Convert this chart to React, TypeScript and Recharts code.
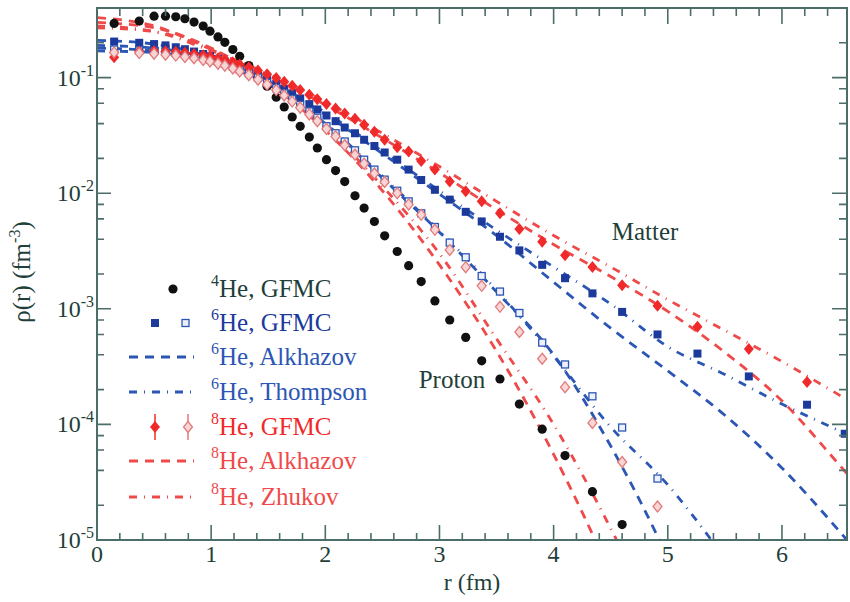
import React from "react";
import { ComposedChart, Scatter, Line, XAxis, YAxis } from "recharts";

const AXIS = "#4d6e68";
const TEXT = "#1f3f3a";
const BLACK = "#111111";
const BLUE = "#1c3a9c";
const BLUE_LINE = "#2c56b4";
const RED = "#f02a2a";
const RED_LINE = "#ef4a4a";
const PINK = "#e27a7a";
const FONT = "Liberation Serif, Tinos, Times New Roman, serif";

const W = 850;
const H = 602;
const MARGIN = { top: 8, right: 3, bottom: 61, left: 0 };
const Y_AXIS_W = 97;
const X_AXIS_H = 1;
const PLOT_TOP = MARGIN.top;
const PLOT_RIGHT = W - MARGIN.right;
const PLOT_LEFT = MARGIN.left + Y_AXIS_W;
const PLOT_BOTTOM = H - MARGIN.bottom - X_AXIS_H;

// r grid of the GFMC points (fm)
const rGrid = [0.15, 0.37, 0.5, 0.6, 0.69, 0.77, 0.85, 0.93, 0.99, 1.06, 1.12, 1.19, 1.25, 1.33, 1.41, 1.49, 1.57, 1.64, 1.71, 1.78, 1.86, 1.93, 2.01, 2.09, 2.17, 2.26, 2.34, 2.43, 2.52, 2.63, 2.73, 2.84, 2.96, 3.09, 3.23, 3.37, 3.53, 3.7, 3.9, 4.1, 4.34, 4.6, 4.91, 5.26, 5.71, 6.22, 6.55];

const he4Gfmc = [0.294, 0.308, 0.34, 0.34, 0.336, 0.323, 0.302, 0.279, 0.252, 0.225, 0.202, 0.175, 0.153, 0.127, 0.104, 0.0843, 0.0676, 0.0557, 0.0456, 0.0379, 0.0306, 0.0246, 0.0195, 0.0157, 0.0126, 0.0095, 0.00743, 0.00569, 0.00428, 0.00313, 0.00236, 0.00172, 0.00117, 0.0008, 0.000566, 0.000355, 0.000247, 0.00015, 0.000091, 0.0000537, 0.0000262, 0.0000136];
const he6MatterGfmc = [0.205, 0.2, 0.195, 0.19, 0.183, 0.176, 0.168, 0.16, 0.153, 0.145, 0.138, 0.13, 0.123, 0.114, 0.105, 0.096, 0.088, 0.08, 0.073, 0.066, 0.059, 0.053, 0.047, 0.042, 0.037, 0.033, 0.029, 0.0256, 0.0225, 0.0195, 0.016, 0.013, 0.0107, 0.0088, 0.0069, 0.0057, 0.0042, 0.0032, 0.0024, 0.00184, 0.00136, 0.00094, 0.0006, 0.00041, 0.00026, 0.000148, 0.000083];
const he6ProtonGfmc = [0.175, 0.172, 0.17, 0.167, 0.163, 0.159, 0.154, 0.149, 0.144, 0.138, 0.132, 0.125, 0.118, 0.109, 0.1, 0.09, 0.081, 0.073, 0.065, 0.058, 0.051, 0.045, 0.038, 0.033, 0.028, 0.0235, 0.0195, 0.016, 0.0131, 0.0105, 0.0085, 0.0067, 0.0051, 0.00374, 0.00279, 0.00192, 0.00141, 0.00092, 0.00051, 0.00033, 0.000175, 0.000094, 0.000034];
const he8MatterGfmc = [0.15, 0.168, 0.17, 0.169, 0.167, 0.164, 0.16, 0.156, 0.152, 0.147, 0.142, 0.136, 0.13, 0.123, 0.115, 0.107, 0.099, 0.092, 0.085, 0.078, 0.071, 0.065, 0.059, 0.054, 0.049, 0.044, 0.039, 0.034, 0.029, 0.025, 0.023, 0.019, 0.016, 0.0126, 0.0104, 0.0085, 0.0067, 0.0049, 0.0038, 0.0029, 0.0023, 0.0016, 0.00106, 0.0007, 0.00045, 0.000233];
const he8ProtonGfmc = [0.165, 0.163, 0.161, 0.158, 0.155, 0.151, 0.147, 0.142, 0.138, 0.132, 0.127, 0.12, 0.113, 0.105, 0.096, 0.087, 0.078, 0.07, 0.062, 0.055, 0.048, 0.042, 0.036, 0.031, 0.026, 0.0215, 0.018, 0.0148, 0.0125, 0.01, 0.008, 0.0065, 0.00482, 0.00323, 0.00229, 0.00158, 0.00104, 0.00063, 0.00037, 0.00021, 0.000103, 0.0000473, 0.0000195];

// r grid of the fitted densities (fm)
const rLine = [0, 0.5, 1, 1.5, 2, 2.5, 3, 3.5, 4, 4.5, 5, 5.5, 6, 6.5, 7];
const he6AlkMatter = [0.21, 0.195, 0.15, 0.093, 0.048, 0.022, 0.0098, 0.0043, 0.0017, 0.00068, 0.00029, 0.00012, 0.000042, 0.000012, 0.000003];
const he6ThoMatter = [0.19, 0.18, 0.145, 0.092, 0.05, 0.023, 0.0105, 0.0048, 0.0023, 0.0011, 0.00047, 0.00027, 0.00015, 0.000088, 0.00005];
const he6AlkProton = [0.18, 0.17, 0.138, 0.087, 0.04, 0.0135, 0.0046, 0.0014, 0.0004, 0.000065, 0.000007, 0.0000005];
const he6ThoProton = [0.17, 0.165, 0.135, 0.087, 0.04, 0.014, 0.0047, 0.00145, 0.00039, 0.000095, 0.00003, 0.000007, 0.0000015];
const he8AlkMatter = [0.33, 0.28, 0.175, 0.105, 0.058, 0.03, 0.015, 0.0072, 0.0036, 0.0019, 0.00095, 0.00042, 0.00016, 0.000045, 0.000012];
const he8ZhuMatter = [0.28, 0.25, 0.17, 0.108, 0.062, 0.033, 0.017, 0.0085, 0.0043, 0.0023, 0.0012, 0.00065, 0.00035, 0.00018, 0.00009];
const he8AlkProton = [0.3, 0.27, 0.18, 0.09, 0.035, 0.0105, 0.0024, 0.00043, 0.000055, 0.000005, 0.0000003];
const he8ZhuProton = [0.27, 0.25, 0.175, 0.092, 0.037, 0.0115, 0.003, 0.00055, 0.0001, 0.0000126, 0.0000012];

const X_MAX = 6.57;
const Y_MIN = 1e-5;
const Y_MAX = 0.4;
const xTicks = [0, 0.2, 0.4, 0.6, 0.8, 1, 1.2, 1.4, 1.6, 1.8, 2, 2.2, 2.4, 2.6, 2.8, 3, 3.2, 3.4, 3.6, 3.8, 4, 4.2, 4.4, 4.6, 4.8, 5, 5.2, 5.4, 5.6, 5.8, 6, 6.2, 6.4];
const yTicks = [1e-5, 2e-5, 4e-5, 6e-5, 8e-5, 1e-4, 2e-4, 4e-4, 6e-4, 8e-4, 1e-3, 2e-3, 4e-3, 6e-3, 8e-3, 1e-2, 2e-2, 4e-2, 6e-2, 8e-2, 0.1, 0.2];

const pts = (r: number[], v: number[]) => v.map((y, i) => ({ r: r[i], v: y }));

const isMajorX = (v: number) => Math.abs(v - Math.round(v)) < 1e-6;
const isMajorY = (v: number) => {
  const e = Math.log10(v);
  return Math.abs(e - Math.round(e)) < 1e-6;
};

const textStyle = { fontFamily: FONT };

// bottom tick + mirrored tick on the top frame edge
function XTick(props: any) {
  const { x, y, payload } = props;
  const major = isMajorX(payload.value);
  const len = major ? 15 : 7;
  return (
    <g>
      <path d={`M${x},${y}v${-len}M${x},${PLOT_TOP + 1}v${len}`} stroke={AXIS} strokeWidth={1.6} fill="none" />
      {major && (
        <text x={x} y={y + 22} textAnchor="middle" style={textStyle} fontSize={24} fill={TEXT}>
          {Math.round(payload.value)}
        </text>
      )}
    </g>
  );
}

// left tick + mirrored tick on the right frame edge
function YTick(props: any) {
  const { x, y, payload } = props;
  const major = isMajorY(payload.value);
  const e = Math.round(Math.log10(payload.value));
  const len = major ? 14 : 7;
  return (
    <g>
      <path d={`M${x},${y}h${len}M${PLOT_RIGHT - 1},${y}h${-len}`} stroke={AXIS} strokeWidth={1.6} fill="none" />
      {major && (
        <text x={x - 3} y={y + 8} textAnchor="end" style={textStyle} fontSize={24} fill={TEXT}>
          10<tspan dy={-10} fontSize={16}>{e}</tspan>
        </text>
      )}
    </g>
  );
}

const dotShape = (p: any) => <circle cx={p.cx} cy={p.cy} r={4.6} fill={BLACK} />;
const squareShape = (p: any) => <rect x={p.cx - 4} y={p.cy - 4} width={8} height={8} fill={BLUE} />;
const openSquareShape = (p: any) => (
  <rect x={p.cx - 3.5} y={p.cy - 3.5} width={7} height={7} fill="#eef1fb" stroke={BLUE_LINE} strokeWidth={1.3} />
);
const diamondShape = (p: any) => (
  <polygon points={`${p.cx},${p.cy - 6} ${p.cx + 5},${p.cy} ${p.cx},${p.cy + 6} ${p.cx - 5},${p.cy}`} fill={RED} />
);
const openDiamondShape = (p: any) => (
  <polygon
    points={`${p.cx},${p.cy - 5.5} ${p.cx + 4.5},${p.cy} ${p.cx},${p.cy + 5.5} ${p.cx - 4.5},${p.cy}`}
    fill="#f8d6d6"
    stroke={PINK}
    strokeWidth={1.3}
  />
);

const DENSE = "9 7";
const SPARSE = "8 7 1 7";

function Overlay() {
  const rows = [
    { y: 289, color: BLACK, label: "4", text: "He, GFMC", kind: "dot" },
    { y: 323, color: BLUE, label: "6", text: "He, GFMC", kind: "square" },
    { y: 357, color: BLUE_LINE, label: "6", text: "He, Alkhazov", kind: "dense" },
    { y: 392, color: BLUE_LINE, label: "6", text: "He, Thompson", kind: "sparse" },
    { y: 427, color: RED, label: "8", text: "He, GFMC", kind: "diamond" },
    { y: 461, color: RED_LINE, label: "8", text: "He, Alkhazov", kind: "dense" },
    { y: 497, color: RED_LINE, label: "8", text: "He, Zhukov", kind: "sparse" },
  ];
  return (
    <svg width={W} height={H} style={{ position: "absolute", left: 0, top: 0, pointerEvents: "none" }}>
      {/* plot frame */}
      <rect
        x={PLOT_LEFT}
        y={PLOT_TOP}
        width={PLOT_RIGHT - PLOT_LEFT}
        height={PLOT_BOTTOM - PLOT_TOP}
        fill="none"
        stroke={AXIS}
        strokeWidth={2}
      />
      {rows.map((row) => (
        <g key={row.y + row.text}>
          {row.kind === "dot" && <circle cx={173} cy={row.y} r={4.6} fill={BLACK} />}
          {row.kind === "square" && (
            <g>
              <rect x={151} y={row.y - 4} width={8} height={8} fill={BLUE} />
              <rect x={182} y={row.y - 3.5} width={7} height={7} fill="#eef1fb" stroke={BLUE_LINE} strokeWidth={1.3} />
            </g>
          )}
          {row.kind === "diamond" && (
            <g>
              <line x1={155} x2={155} y1={row.y - 13} y2={row.y + 13} stroke={RED} strokeWidth={1.5} />
              <polygon points={`155,${row.y - 6} 160,${row.y} 155,${row.y + 6} 150,${row.y}`} fill={RED} />
              <line x1={188} x2={188} y1={row.y - 13} y2={row.y + 13} stroke={PINK} strokeWidth={1.5} />
              <polygon
                points={`188,${row.y - 5.5} 192.5,${row.y} 188,${row.y + 5.5} 183.5,${row.y}`}
                fill="#f8d6d6"
                stroke={PINK}
                strokeWidth={1.3}
              />
            </g>
          )}
          {(row.kind === "dense" || row.kind === "sparse") && (
            <line
              x1={129}
              x2={194}
              y1={row.y}
              y2={row.y}
              stroke={row.color}
              strokeWidth={2.8}
              strokeDasharray={row.kind === "dense" ? DENSE : SPARSE}
            />
          )}
          <text x={211} y={row.y + 8} style={textStyle} fontSize={25} fill={row.color === BLACK ? TEXT : row.color}>
            <tspan fontSize={16} dy={-11}>{row.label}</tspan>
            <tspan dy={11}>{row.text}</tspan>
          </text>
        </g>
      ))}
      <text x={645} y={240} textAnchor="middle" style={textStyle} fontSize={25} fill={TEXT}>Matter</text>
      <text x={452} y={388} textAnchor="middle" style={textStyle} fontSize={25} fill={TEXT}>Proton</text>
      <text x={472} y={590} textAnchor="middle" style={textStyle} fontSize={24} fill={TEXT}>r  (fm)</text>
      <text transform="translate(30,272) rotate(-90)" textAnchor="middle" style={textStyle} fontSize={25} fill={TEXT}>
        ρ(r)  (fm<tspan dy={-10} fontSize={16}>-3</tspan><tspan dy={10}>)</tspan>
      </text>
    </svg>
  );
}

export default function App() {
  return (
    <div style={{ position: "absolute", left: 0, top: 0, width: W, height: H, background: "#fff" }}>
      <ComposedChart width={W} height={H} margin={MARGIN}>
        <XAxis
          xAxisId="b"
          type="number"
          dataKey="r"
          domain={[0, X_MAX]}
          ticks={xTicks}
          interval={0}
          height={X_AXIS_H}
          tickSize={0}
          tickMargin={0}
          tickLine={false}
          tick={<XTick />}
          axisLine={{ stroke: AXIS, strokeWidth: 2 }}
          allowDataOverflow
        />
        <YAxis
          yAxisId="l"
          type="number"
          dataKey="v"
          scale="log"
          domain={[Y_MIN, Y_MAX]}
          ticks={yTicks}
          interval={0}
          width={Y_AXIS_W}
          tickSize={0}
          tickMargin={0}
          tickLine={false}
          tick={<YTick />}
          axisLine={{ stroke: AXIS, strokeWidth: 2 }}
          allowDataOverflow
        />

        <Line xAxisId="b" yAxisId="l" data={pts(rLine, he6AlkMatter)} dataKey="v" type="monotone" dot={false} stroke={BLUE_LINE} strokeWidth={2.8} strokeDasharray={DENSE} isAnimationActive={false} />
        <Line xAxisId="b" yAxisId="l" data={pts(rLine, he6ThoMatter)} dataKey="v" type="monotone" dot={false} stroke={BLUE_LINE} strokeWidth={2.8} strokeDasharray={SPARSE} isAnimationActive={false} />
        <Line xAxisId="b" yAxisId="l" data={pts(rLine, he6AlkProton)} dataKey="v" type="monotone" dot={false} stroke={BLUE_LINE} strokeWidth={2.8} strokeDasharray={DENSE} isAnimationActive={false} />
        <Line xAxisId="b" yAxisId="l" data={pts(rLine, he6ThoProton)} dataKey="v" type="monotone" dot={false} stroke={BLUE_LINE} strokeWidth={2.8} strokeDasharray={SPARSE} isAnimationActive={false} />
        <Line xAxisId="b" yAxisId="l" data={pts(rLine, he8AlkMatter)} dataKey="v" type="monotone" dot={false} stroke={RED_LINE} strokeWidth={2.8} strokeDasharray={DENSE} isAnimationActive={false} />
        <Line xAxisId="b" yAxisId="l" data={pts(rLine, he8ZhuMatter)} dataKey="v" type="monotone" dot={false} stroke={RED_LINE} strokeWidth={2.8} strokeDasharray={SPARSE} isAnimationActive={false} />
        <Line xAxisId="b" yAxisId="l" data={pts(rLine, he8AlkProton)} dataKey="v" type="monotone" dot={false} stroke={RED_LINE} strokeWidth={2.8} strokeDasharray={DENSE} isAnimationActive={false} />
        <Line xAxisId="b" yAxisId="l" data={pts(rLine, he8ZhuProton)} dataKey="v" type="monotone" dot={false} stroke={RED_LINE} strokeWidth={2.8} strokeDasharray={SPARSE} isAnimationActive={false} />

        <Scatter xAxisId="b" yAxisId="l" data={pts(rGrid, he4Gfmc)} shape={dotShape} isAnimationActive={false} />
        <Scatter xAxisId="b" yAxisId="l" data={pts(rGrid, he6MatterGfmc)} shape={squareShape} isAnimationActive={false} />
        <Scatter xAxisId="b" yAxisId="l" data={pts(rGrid, he6ProtonGfmc)} shape={openSquareShape} isAnimationActive={false} />
        <Scatter xAxisId="b" yAxisId="l" data={pts(rGrid, he8MatterGfmc)} shape={diamondShape} isAnimationActive={false} />
        <Scatter xAxisId="b" yAxisId="l" data={pts(rGrid, he8ProtonGfmc)} shape={openDiamondShape} isAnimationActive={false} />
      </ComposedChart>
      <Overlay />
    </div>
  );
}
